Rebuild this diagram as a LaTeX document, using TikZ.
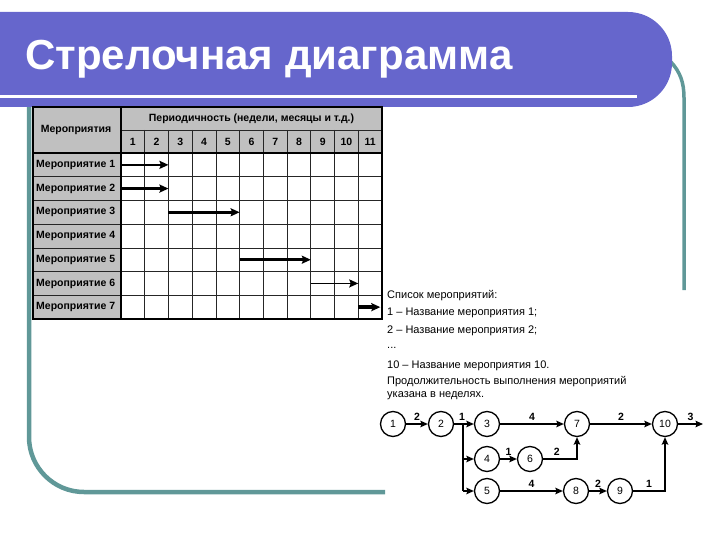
\documentclass[tikz,border=0pt]{standalone}
\usepackage{fontspec}
\setmainfont{Liberation Sans}
\usetikzlibrary{calc,arrows.meta}

\definecolor{titleblue}{RGB}{102,102,204}
\definecolor{frameteal}{RGB}{96,152,152}
\definecolor{cellgrey}{RGB}{192,192,192}

\def\tabl{33}
\def\tabx{121}
\def\tabr{382}
\def\tabt{107}
\def\taby{153}
\def\tabb{319}
\def\colw{23.727}
\def\rowh{23.714}

\tikzset{
	titletext/.style={font=\fontsize{42}{42}\selectfont\bfseries, inner sep=0pt, anchor=base west},
	tabtext/.style={font=\fontsize{10.5}{11}\selectfont\bfseries, inner sep=0pt},
	listtext/.style={font=\fontsize{11}{12.5}\selectfont, inner sep=0pt, anchor=west, align=left},
	gridline/.style={black!85, line width=0.7},
	bararrow/.style={-{Stealth[length=9pt, width=8pt, inset=1.5pt]}},
	evnode/.style={circle, draw, line width=1.3, minimum size=25, inner sep=0pt, font=\fontsize{10.5}{11}\selectfont},
	netarrow/.style={-{Stealth[length=7.5pt, width=6.5pt, inset=1.2pt]}, line width=1.4},
	durlabel/.style={font=\fontsize{10.5}{11}\selectfont\bfseries, inner sep=1pt, above=2pt}
}

\begin{document}
\begin{tikzpicture}[x=1pt, y=-1pt]

	\useasboundingbox (0,0) rectangle (720,540);
	\clip (0,0) rectangle (720,540);

	%%% Frame
	\draw[frameteal, line width=3.5] (671,62) .. controls (680,72) and (684,82) .. (684,98) -- (684,290);
	\draw[frameteal, line width=4.5, rounded corners=55] (29,100) -- (29,492) -- (385,492);

	%%% Title bar
	\fill[titleblue, rounded corners=44] (-80,12) rectangle (672,107);
	\fill[white] (-5,95) rectangle (637,98);
	\node[titletext, text=white] (title) at (25,70) {Стрелочная диаграмма};

	%%% Gantt table
	\fill[white] (\tabl,\tabt) rectangle (\tabr,\tabb);
	\fill[cellgrey] (\tabl,\tabt) rectangle (\tabr,\taby);
	\fill[cellgrey] (\tabl,\taby) rectangle (\tabx,\tabb);
	\draw[gridline] (\tabx,130) -- (\tabr,130);
	\foreach \j in {1,...,6}
		\draw[gridline] (\tabl,{\taby+\j*\rowh}) -- (\tabr,{\taby+\j*\rowh});
	\foreach \i in {1,...,10}
		\draw[gridline] ({\tabx+\i*\colw},130) -- ({\tabx+\i*\colw},\tabb);
	\draw[black, line width=1.2] (\tabx,\tabt) -- (\tabx,\tabb);
	\draw[black, line width=1.4] (\tabl,\taby) -- (\tabr,\taby);
	\draw[black, line width=1.5] (\tabl,\tabt) rectangle (\tabr,\tabb);

	\node[tabtext] (hdr_events) at (76,130) {Мероприятия};
	\node[tabtext] (hdr_period) at ({(\tabx+\tabr)/2},118.5) {Периодичность (недели, месяцы и т.д.)};
	\foreach \i in {1,...,11}
		\node[tabtext] (week_\i) at ({\tabx+(\i-0.5)*\colw},141.5) {\i};
	\foreach \i in {1,...,7}
		\node[tabtext, anchor=west] (event_\i) at (36,{\taby+(\i-0.5)*\rowh}) {Мероприятие \i};

	%%% Gantt arrows (row/start/end/width)
	\foreach \r/\a/\b/\w in {1/0/2/2.3, 2/0/2/2.3, 3/2/5/2.5, 5/5/8/2.8, 6/8/10/1.6, 7/10/10.93/3.6} {
		\coordinate (bar_\r_a) at ({\tabx+\a*\colw},{\taby+(\r-0.5)*\rowh});
		\coordinate (bar_\r_b) at ({\tabx+\b*\colw},{\taby+(\r-0.5)*\rowh});
		\draw[bararrow, line width=\w] (bar_\r_a) -- (bar_\r_b);
	}

	%%% List of events
	\node[listtext] (list_head) at (387,296) {Список мероприятий:};
	\node[listtext] (list_1) at (387,313) {1 – Название мероприятия 1;};
	\node[listtext] (list_2) at (387,331) {2 – Название мероприятия 2;};
	\node[listtext] (list_dots) at (387,348) {...};
	\node[listtext] (list_10) at (387,366) {10 – Название мероприятия 10.};
	\node[listtext] (list_note) at (387,388) {Продолжительность выполнения мероприятий\\указана в неделях.};

	%%% Network
	\node[evnode] (n1) at (393,424) {1};
	\node[evnode] (n2) at (441,424) {2};
	\node[evnode] (n3) at (487,424) {3};
	\node[evnode] (n7) at (577,424) {7};
	\node[evnode] (n10) at (665,424) {10};
	\node[evnode] (n4) at (487,459) {4};
	\node[evnode] (n6) at (530,459) {6};
	\node[evnode] (n5) at (487,491) {5};
	\node[evnode] (n8) at (576,491) {8};
	\node[evnode] (n9) at (620,491) {9};
	\coordinate (split_top) at (463,424);
	\coordinate (split_mid) at (split_top |- n4);
	\coordinate (split_bot) at (split_top |- n5);
	\coordinate (out_end) at (703,424);

	\draw[netarrow] (n1) -- node[durlabel] {2} (n2);
	\draw[netarrow] (n2) -- node[durlabel, pos=0.4] {1} (n3);
	\draw[line width=1.4] (split_top) -- (split_bot);
	\draw[netarrow] (split_mid) -- (n4);
	\draw[netarrow] (split_bot) -- (n5);
	\draw[netarrow] (n3) -- node[durlabel] {4} (n7);
	\draw[netarrow] (n7) -- node[durlabel] {2} (n10);
	\draw[netarrow] (n10) -- node[durlabel] {3} (out_end);
	\draw[netarrow] (n4) -- node[durlabel] {1} (n6);
	\draw[netarrow] (n6) -| node[durlabel, pos=0.2] {2} (n7);
	\draw[netarrow] (n5) -- node[durlabel] {4} (n8);
	\draw[netarrow] (n8) -- node[durlabel] {2} (n9);
	\draw[netarrow] (n9) -| node[durlabel, pos=0.25] {1} (n10);

\end{tikzpicture}
\end{document}
